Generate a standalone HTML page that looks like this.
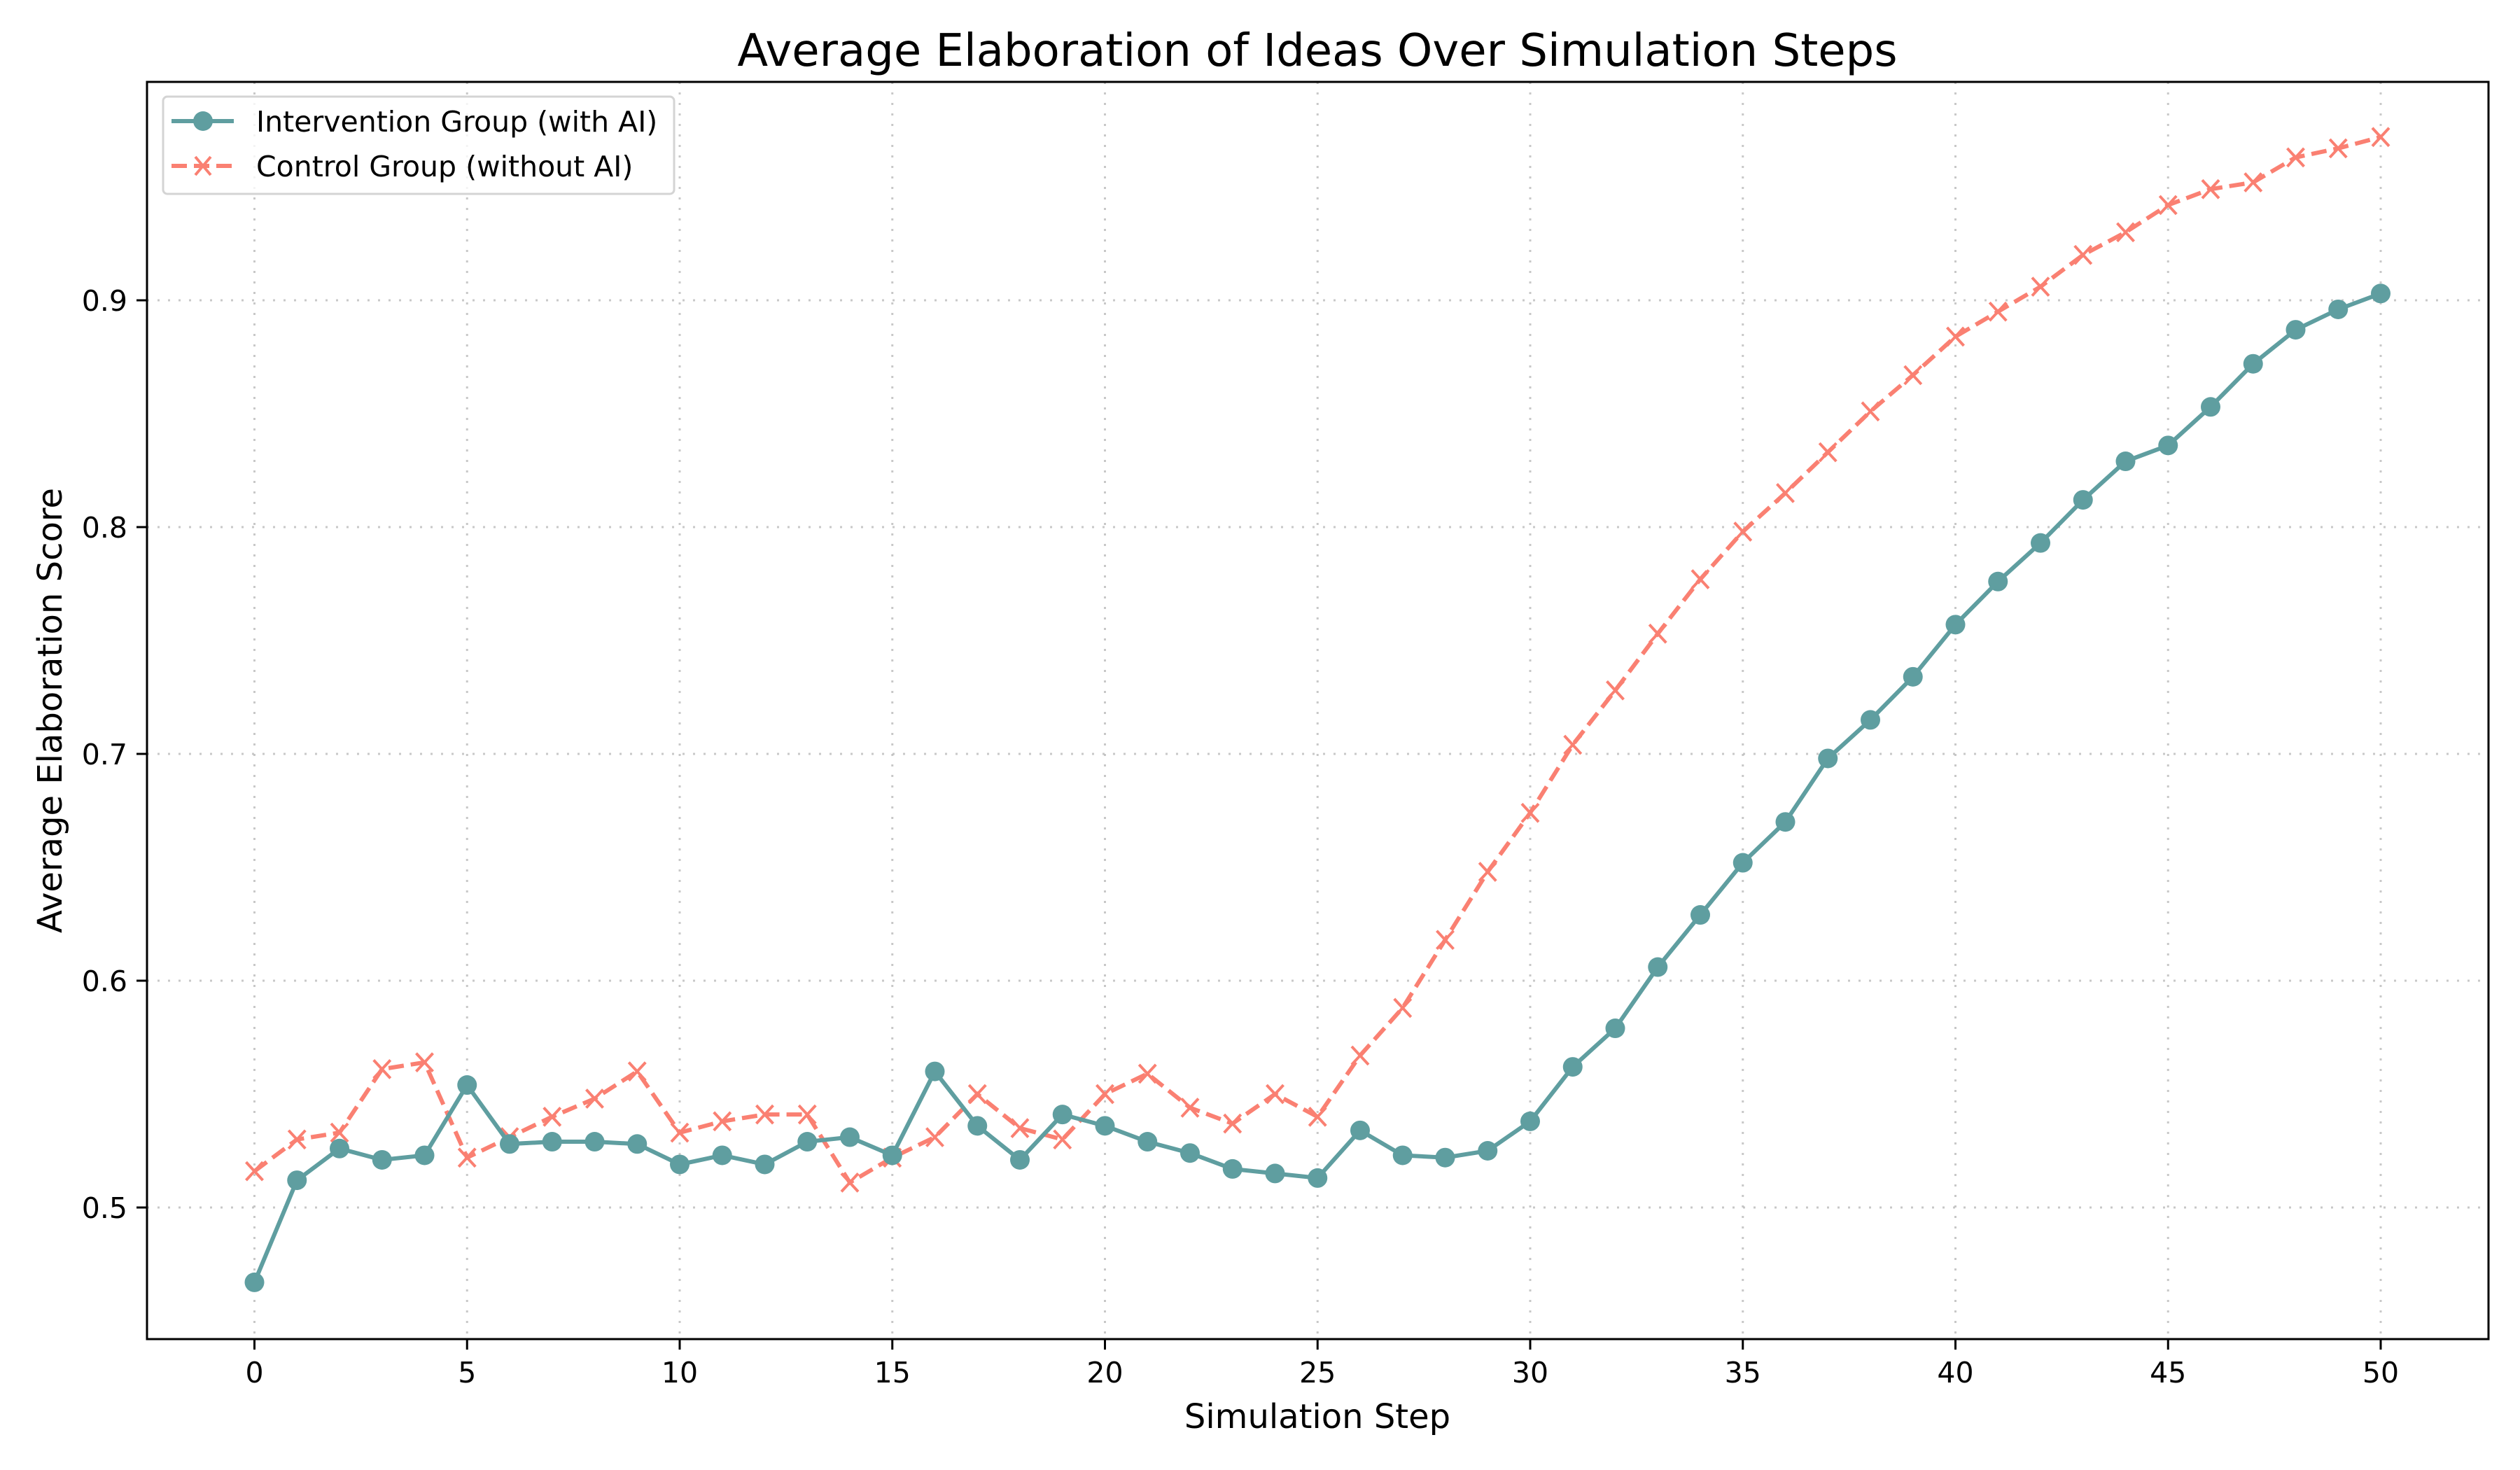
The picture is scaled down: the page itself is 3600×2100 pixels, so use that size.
<!DOCTYPE html>
<html><head><meta charset="utf-8"><style>
html,body{margin:0;padding:0;background:#fff;}
svg{display:block;font-family:"DejaVu Sans","Liberation Sans",sans-serif;}
</style></head><body>
<svg id="chart" width="3600" height="2100" viewBox="0 0 3600 2100" xmlns="http://www.w3.org/2000/svg">
<rect width="3600" height="2100" fill="#fff"/>
<g id="grid"></g>
<g id="series"></g>
<rect x="210" y="117" width="3345" height="1796" fill="none" stroke="#000" stroke-width="3"/>
<g id="ticks"></g>
<text x="1882" y="94" text-anchor="middle" font-size="64">Average Elaboration of Ideas Over Simulation Steps</text>
<text x="1882" y="2040" text-anchor="middle" font-size="48">Simulation Step</text>
<text x="0" y="0" transform="translate(88,1015) rotate(-90)" text-anchor="middle" font-size="48">Average Elaboration Score</text>
<g>
<rect x="233" y="138" width="730" height="139" rx="6" fill="#fff" fill-opacity="0.8" stroke="#d4d4d4" stroke-width="3"/>
<g>
<line x1="245" y1="173" x2="334" y2="173" stroke="#5f9ea0" stroke-width="6"/>
<circle cx="290" cy="173" r="14" fill="#5f9ea0"/>
<text x="366" y="188" font-size="41">Intervention Group (with AI)</text>
</g>
<g>
<line x1="245" y1="237" x2="334" y2="237" stroke="#fa8072" stroke-width="6" stroke-dasharray="22 10"/>
<path d="M279 224 L301 250 M301 224 L279 250" stroke="#fa8072" stroke-width="4"/>
<text x="366" y="252" font-size="41">Control Group (without AI)</text>
</g>
</g>
</svg>
<script>
const steps = Array.from({length:51},(_,i)=>i);
const interventionValues = [0.467,0.512,0.526,0.521,0.523,0.554,0.528,0.529,0.529,0.528,0.519,0.523,0.519,0.529,0.531,0.523,0.560,0.536,0.521,0.541,0.536,0.529,0.524,0.517,0.515,0.513,0.534,0.523,0.522,0.525,0.538,0.562,0.579,0.606,0.629,0.652,0.670,0.698,0.715,0.734,0.757,0.776,0.793,0.812,0.829,0.836,0.853,0.872,0.887,0.896,0.903];
const controlValues = [0.516,0.530,0.533,0.561,0.564,0.522,0.531,0.540,0.548,0.560,0.533,0.538,0.541,0.541,0.511,0.522,0.531,0.550,0.535,0.530,0.550,0.559,0.544,0.537,0.550,0.540,0.567,0.588,0.618,0.648,0.674,0.704,0.728,0.753,0.777,0.798,0.815,0.833,0.851,0.867,0.884,0.895,0.906,0.920,0.930,0.942,0.949,0.952,0.963,0.967,0.972];
const xTicks = [0,5,10,15,20,25,30,35,40,45,50];
const yTicks = [0.5,0.6,0.7,0.8,0.9];

const NS="http://www.w3.org/2000/svg";
const xs = v => 363.5 + v*60.75;
const ys = v => 1725 - (v-0.5)*3240;
function mk(tag, attrs, parent){const e=document.createElementNS(NS,tag);for(const k in attrs)e.setAttribute(k,attrs[k]);parent.appendChild(e);return e;}
const grid=document.getElementById('grid'), ticks=document.getElementById('ticks'), series=document.getElementById('series');
xTicks.forEach(t=>{
  const g=mk('line',{x1:xs(t),x2:xs(t),y1:117,y2:1913,stroke:'#b0b0b0','stroke-width':3,'stroke-dasharray':'3 12','stroke-opacity':0.7},grid);
  
  
  const tk=mk('line',{x1:xs(t),x2:xs(t),y1:1913,y2:1928,stroke:'#000','stroke-width':3},ticks);
  
  
  const tx=mk('text',{x:xs(t),y:1975,'text-anchor':'middle','font-size':41},ticks);
  tx.textContent=t;
  
  
});
yTicks.forEach(t=>{
  const g=mk('line',{x1:210,x2:3555,y1:ys(t),y2:ys(t),stroke:'#b0b0b0','stroke-width':3,'stroke-dasharray':'3 12','stroke-opacity':0.7},grid);
  
  
  const tk=mk('line',{x1:195,x2:210,y1:ys(t),y2:ys(t),stroke:'#000','stroke-width':3},ticks);
  
  
  const tx=mk('text',{x:182,y:ys(t)+15,'text-anchor':'end','font-size':41},ticks);
  tx.textContent=t.toFixed(1);
  
  
});
const cPts=controlValues.map((v,i)=>xs(steps[i])+','+ys(v)).join(' ');
const cl=mk('polyline',{points:cPts,fill:'none',stroke:'#fa8072','stroke-width':6,'stroke-dasharray':'22 10'},series);


controlValues.forEach((v,i)=>{
  const x=xs(steps[i]),y=ys(v);
  const m=mk('path',{d:`M${x-12} ${y-13} L${x+12} ${y+13} M${x+12} ${y-13} L${x-12} ${y+13}`,stroke:'#fa8072','stroke-width':4},series);
  
  
});
const iPts=interventionValues.map((v,i)=>xs(steps[i])+','+ys(v)).join(' ');
const il=mk('polyline',{points:iPts,fill:'none',stroke:'#5f9ea0','stroke-width':6},series);


interventionValues.forEach((v,i)=>{
  const c=mk('circle',{cx:xs(steps[i]),cy:ys(v),r:14,fill:'#5f9ea0'},series);
  
  
});
</script>
</body></html>
